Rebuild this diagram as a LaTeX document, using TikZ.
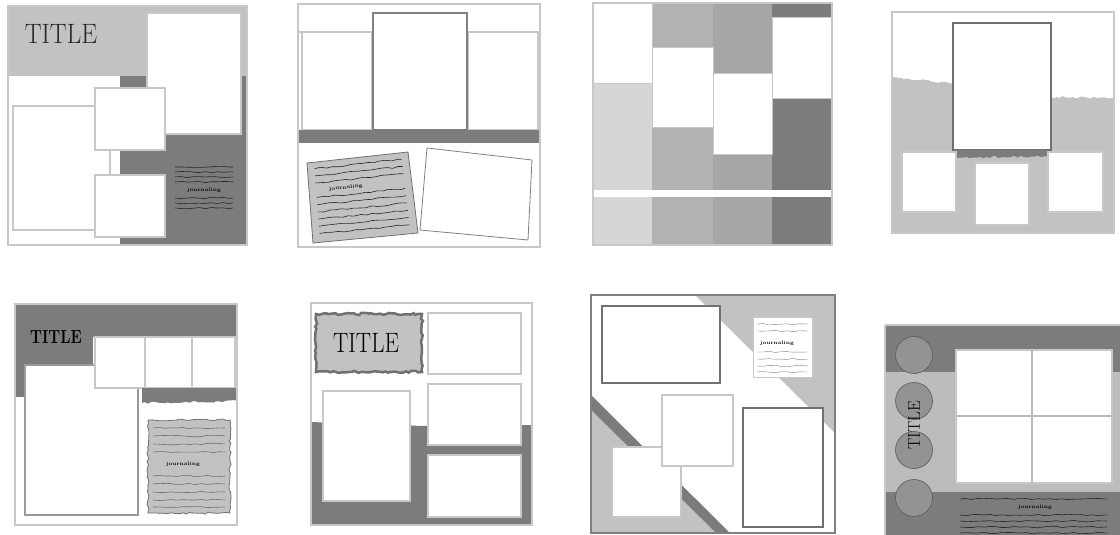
\documentclass[tikz,border=0pt]{standalone}
\usepackage{xcolor}
\usepackage{tikz}
\usetikzlibrary{calc, decorations.pathmorphing}
\definecolor{framegray}{RGB}{200,200,200}
\definecolor{paleblock}{RGB}{214,214,214}
\definecolor{lightblock}{RGB}{194,194,194}
\definecolor{midblock}{RGB}{178,178,178}
\definecolor{greyblock}{RGB}{166,166,166}
\definecolor{darkblock}{RGB}{124,124,124}
\definecolor{edgegray}{RGB}{112,112,112}
\definecolor{inkgray}{RGB}{40,40,40}

\begin{document}
\begin{tikzpicture}[
    x=1pt, y=-1pt,
    page/.style={draw=framegray, line width=1.5pt},
    photo/.style={draw=framegray, line width=1.2pt, fill=white},
    matted/.style={draw=edgegray, line width=2.5pt, fill=white},
    tornedge/.style={decoration={random steps, segment length=3pt, amplitude=1.1pt}},
    jline/.style={draw=inkgray, line width=0.6pt, decorate, decoration={random steps, segment length=6pt, amplitude=0.8pt}},
    titletext/.style={font=\fontsize{28}{28}\selectfont, text=inkgray, inner sep=0pt},
    jtext/.style={font=\fontsize{5}{5}\selectfont\bfseries, text=black, inner sep=0.8pt},
]
    \pgfmathsetseed{11}
    \useasboundingbox (0,0) rectangle (1120,535);
    \fill[white] (0,0) rectangle (1120,535);

    % Layout 1
    \fill[white] (8,6) rectangle (247,245);
    \fill[lightblock] (8,6) rectangle (247,76);
    \fill[darkblock] (120,76) rectangle (247,245);
    \draw[photo] (147,13) rectangle (241,134);
    \draw[photo] (13,106) rectangle (110,230);
    \draw[photo] (95,88) rectangle (165,150);
    \draw[photo] (95,175) rectangle (165,237);
    \foreach \yy in {167,172,177,182,198,203,208}
        \draw[jline] (175,\yy) -- (233,\yy);
    \node[jtext, fill=darkblock] (journal1) at (204,190) {journaling};
    \node[titletext, xscale=0.9] (title1) at (61,34) {TITLE};
    \draw[page] (8,6) rectangle (247,245);

    % Layout 2
    \fill[white] (298,4) rectangle (540,247);
    \draw[framegray, line width=1.5pt] (298,32) -- (540,32);
    \draw[photo, line width=2pt] (302,32) rectangle (372,130);
    \draw[photo, line width=2pt] (468,32) rectangle (538,130);
    \draw[matted, draw=gray] (373,13) rectangle (467,130);
    \fill[darkblock] (298,130) rectangle (540,143);
    \coordinate (c2a) at (307,163);
    \coordinate (c2b) at (408,152);
    \coordinate (c2c) at (418,233);
    \coordinate (c2d) at (313,243);
    \filldraw[fill=lightblock, draw=edgegray, line width=0.8pt] (c2a) -- (c2b) -- (c2c) -- (c2d) -- cycle;
    \foreach \t in {0.08,0.17,0.26,0.44,0.53,0.62,0.71,0.8,0.89} {
        \path coordinate (L) at ($(c2a)!\t!(c2d)$) coordinate (R) at ($(c2b)!\t!(c2c)$);
        \draw[jline] ($(L)!0.07!(R)$) -- ($(L)!0.93!(R)$);
    }
    \node[jtext, rotate=6, fill=lightblock] (journal2) at ($(c2a)!0.35!(c2c)$) {journaling};
    \draw[photo, line width=0.8pt, draw=gray] (427,148) -- (532,160) -- (528,240) -- (420,230) -- cycle;
    \draw[page] (298,4) rectangle (540,247);

    % Layout 3
    \fill[white] (593,3) rectangle (832,245);
    \fill[paleblock] (593,83) rectangle (652,190);
    \fill[midblock] (652,3) rectangle (713,190);
    \fill[greyblock] (713,3) rectangle (772,190);
    \fill[darkblock] (772,3) rectangle (832,190);
    \draw[photo, line width=0.8pt] (593,3) rectangle (652,83);
    \draw[photo, line width=0.8pt] (652,47) rectangle (713,127);
    \draw[photo, line width=0.8pt] (713,73) rectangle (772,154);
    \draw[photo, line width=0.8pt] (772,17) rectangle (832,98);
    \fill[paleblock] (593,197) rectangle (652,245);
    \fill[midblock] (652,197) rectangle (713,245);
    \fill[greyblock] (713,197) rectangle (772,245);
    \fill[darkblock] (772,197) rectangle (832,245);
    \draw[page] (593,3) rectangle (832,245);

    % Layout 4
    \fill[white] (892,12) rectangle (1114,233);
    \fill[lightblock] (892,77) decorate[tornedge]{-- (1000,88)} -- (1000,96)
        decorate[tornedge]{-- (1114,98)} -- (1114,233) -- (892,233) -- cycle;
    \draw[matted] (953,23) rectangle (1051,150);
    \fill[darkblock] (955,150) -- (1047,150) -- (1047,156) decorate[tornedge]{-- (955,158)} -- cycle;
    \draw[photo] (902,152) rectangle (956,212);
    \draw[photo] (975,163) rectangle (1029,225);
    \draw[photo] (1048,152) rectangle (1103,212);
    \draw[page] (892,12) rectangle (1114,233);

    % Layout 5
    \fill[white] (15,304) rectangle (237,525);
    \fill[darkblock] (15,304) rectangle (237,337);
    \fill[darkblock] (15,337) rectangle (93,365);
    \fill[darkblock] (15,365) rectangle (25,397);
    \draw[photo, draw=gray!80, line width=2pt] (25,365) rectangle (138,515);
    \draw[photo] (95,337) rectangle (145,388);
    \draw[photo] (145,337) rectangle (192,388);
    \draw[photo] (192,337) rectangle (235,388);
    \fill[darkblock] (142,388) -- (237,388) -- (237,401) decorate[tornedge]{-- (142,403)} -- cycle;
    \filldraw[fill=lightblock, draw=edgegray, line width=0.8pt, decorate, tornedge] (148,420) rectangle (230,513);
    \foreach \yy in {428,436,444,452,476,484,492,500,507}
        \draw[jline, draw=edgegray] (153,\yy) -- (225,\yy);
    \node[jtext, fill=lightblock] (journal5) at (183,464) {journaling};
    \node[titletext, text=black, font=\fontsize{19}{19}\selectfont\bfseries, xscale=0.8] (title5) at (56,337) {TITLE};
    \draw[page] (15,304) rectangle (237,525);

    % Layout 6
    \fill[white] (311,303) rectangle (532,525);
    \fill[darkblock] (311,422) -- (423,426) -- (532,425) -- (532,525) -- (311,525) -- cycle;
    \draw[photo, line width=2pt] (323,391) rectangle (410,501);
    \draw[photo] (428,313) rectangle (521,374);
    \draw[photo] (428,384) rectangle (521,445);
    \draw[photo] (428,455) rectangle (521,517);
    \filldraw[fill=lightblock, draw=edgegray, line width=2.5pt, decorate, tornedge] (316,314) rectangle (422,372);
    \node[titletext, text=black, xscale=0.82] (title6) at (366,343) {TITLE};
    \draw[page] (311,303) rectangle (532,525);

    % Layout 7
    \fill[white] (591,295) rectangle (835,533);
    \fill[lightblock] (695,295) -- (835,295) -- (835,433) -- cycle;
    \fill[darkblock] (591,395) -- (730,533) -- (591,533) -- cycle;
    \fill[lightblock] (591,410) -- (716,533) -- (591,533) -- cycle;
    \draw[matted] (602,306) rectangle (720,383);
    \draw[photo, line width=0.8pt] (753,317) rectangle (812,377);
    \foreach \yy in {324,331,352,359,366,372}
        \draw[jline, draw=gray, line width=0.4pt] (757,\yy) -- (808,\yy);
    \node[jtext, fill=white] (journal7) at (777,343) {journaling};
    \draw[photo] (612,447) rectangle (681,517);
    \draw[photo] (662,395) rectangle (733,466);
    \draw[matted] (743,408) rectangle (823,527);
    \draw[page, draw=gray] (591,295) rectangle (835,533);

    % Layout 8
    \fill[darkblock] (885,325) rectangle (1120,372);
    \fill[lightblock!110!white] (885,372) rectangle (1120,492);
    \fill[darkblock] (885,492) rectangle (1120,535);
    \foreach \cy in {355,401,450,498}
        \filldraw[fill=gray!85, draw=gray!70!black, line width=0.6pt] (914,\cy) circle (18.5pt);
    \node[titletext, text=black, font=\fontsize{17}{17}\selectfont, rotate=90] (title8) at (914,425) {TITLE};
    \draw[photo] (956,350) rectangle (1112,483);
    \draw[framegray!80!gray, line width=1.2pt] (1032,350) -- (1032,483);
    \draw[framegray!80!gray, line width=1.2pt] (956,416) -- (1112,416);
    \foreach \yy in {499,515,521,527,533}
        \draw[jline] (960,\yy) -- (1107,\yy);
    \node[jtext, fill=darkblock] (journal8) at (1035,507) {journaling};
    \draw[page] (885,325) -- (1120,325);
    \draw[page] (885,325) -- (885,535);
\end{tikzpicture}
\end{document}
